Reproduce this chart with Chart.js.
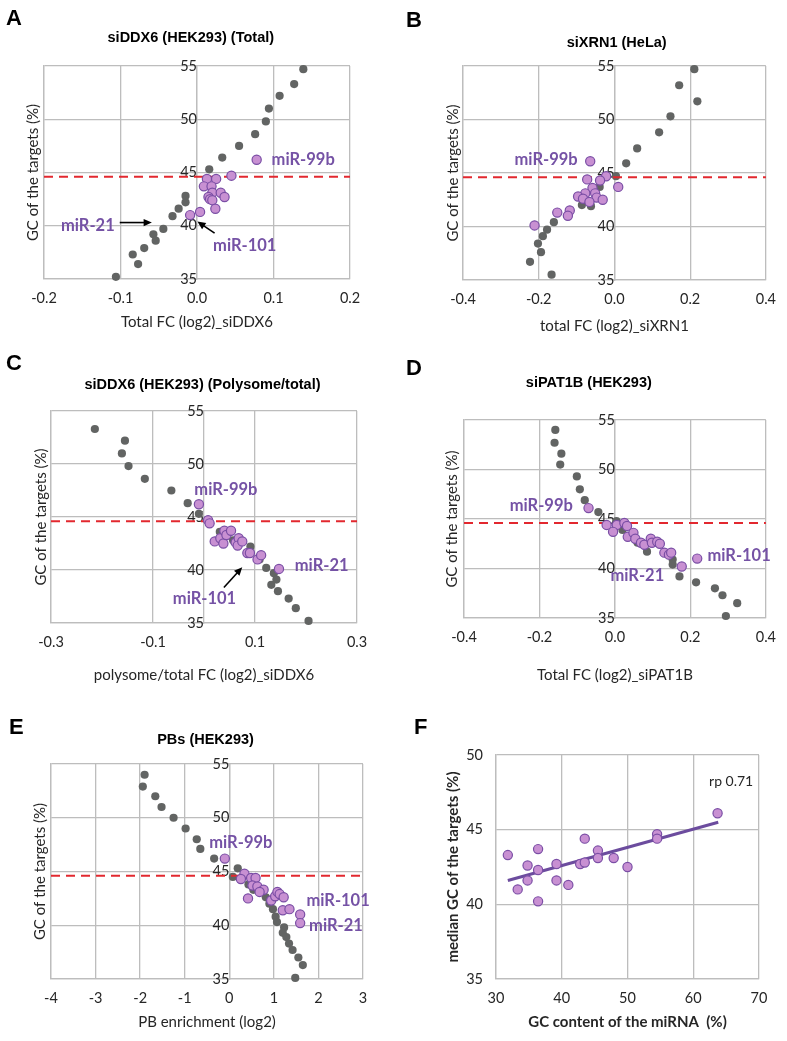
<!DOCTYPE html>
<html>
<head>
<meta charset="utf-8">
<script src="https://cdn.jsdelivr.net/npm/chart.js@4.4.1/dist/chart.umd.min.js"></script>
<style>
  html, body { margin: 0; padding: 0; background: #fff; }
  #wrap { position: relative; width: 787px; height: 1041px; overflow: hidden; }
</style>
</head>
<body>
<div id="wrap"></div>
<script>
// GC of the targets (%) : gray = target bins, purple = individual miRNAs, values are [x, y]
const panelA_gray = [[-0.106,35.2],[-0.084,37.3],[-0.077,36.4],[-0.069,37.9],[-0.057,39.2],[-0.054,38.6],[-0.044,39.7],[-0.032,40.9],[-0.024,41.6],[-0.015,42.2],[-0.015,42.8],[0.016,45.3],[0.033,46.4],[0.055,47.5],[0.076,48.6],[0.090,49.8],[0.094,51.0],[0.108,52.2],[0.127,53.3],[0.139,54.7]];
const panelA_mir = [[0.078,46.2],[0.045,44.7],[0.013,44.4],[0.025,44.4],[0.009,43.7],[0.019,43.7],[0.020,43.1],[0.015,42.7],[0.017,42.5],[0.020,42.4],[0.031,43.1],[0.036,42.7],[0.024,41.6],[0.004,41.3],[-0.009,41.0]];

const panelB_gray = [[0.211,54.7],[0.171,53.2],[0.219,51.7],[0.148,50.3],[0.118,48.8],[0.060,47.3],[0.031,45.9],[0.004,44.7],[-0.039,43.7],[-0.062,41.9],[-0.086,42.0],[-0.160,40.4],[-0.178,39.7],[-0.189,39.1],[-0.202,38.4],[-0.194,37.6],[-0.223,36.7],[-0.166,35.5]];
const panelB_mir = [[-0.064,46.1],[-0.022,44.7],[-0.072,44.4],[-0.038,44.3],[-0.058,43.6],[0.010,43.7],[-0.077,43.1],[-0.051,43.1],[-0.096,42.8],[-0.083,42.6],[-0.047,42.7],[-0.066,42.3],[-0.031,42.5],[-0.118,41.5],[-0.151,41.3],[-0.123,41.0],[-0.211,40.1]];

const panelC_gray = [[-0.214,53.3],[-0.155,52.2],[-0.161,51.0],[-0.148,49.8],[-0.116,48.6],[-0.064,47.5],[-0.032,46.3],[-0.010,45.3],[0.031,43.6],[0.057,42.8],[0.091,42.2],[0.109,41.0],[0.122,40.2],[0.137,39.7],[0.142,39.1],[0.132,38.6],[0.145,38.0],[0.166,37.3],[0.180,36.4],[0.205,35.2]];
const panelC_mir = [[-0.010,46.2],[0.008,44.7],[0.011,44.4],[0.021,42.7],[0.032,43.0],[0.040,43.7],[0.038,42.5],[0.044,43.3],[0.053,43.7],[0.062,42.6],[0.068,43.0],[0.066,42.3],[0.075,42.7],[0.085,41.6],[0.090,41.6],[0.105,41.0],[0.112,41.4],[0.147,40.1]];

const panelD_gray = [[-0.158,54.0],[-0.160,52.7],[-0.142,51.6],[-0.145,50.5],[-0.101,49.3],[-0.093,48.0],[-0.080,46.9],[-0.044,45.7],[0.004,44.8],[0.020,43.9],[0.060,42.6],[0.085,41.7],[0.153,40.9],[0.153,40.4],[0.171,39.2],[0.215,38.6],[0.265,38.0],[0.285,37.3],[0.324,36.5],[0.294,35.2]];
const panelD_mir = [[-0.070,46.1],[-0.022,44.4],[0.005,44.4],[-0.005,43.7],[0.025,44.6],[0.032,44.3],[0.034,43.2],[0.049,43.6],[0.054,43.0],[0.069,42.6],[0.078,42.4],[0.095,43.0],[0.098,42.6],[0.112,42.7],[0.119,42.5],[0.131,41.6],[0.143,41.4],[0.149,41.6],[0.177,40.2],[0.218,41.0]];

const panelE_gray = [[-1.90,54.0],[-1.94,52.9],[-1.66,52.0],[-1.52,51.0],[-1.25,50.0],[-0.98,49.0],[-0.73,48.0],[-0.65,47.1],[-0.34,46.2],[0.19,45.3],[0.08,44.5],[0.43,43.8],[0.54,43.3],[0.82,42.6],[0.90,42.0],[0.98,41.5],[1.04,40.8],[1.07,40.3],[1.23,39.8],[1.20,39.3],[1.28,38.9],[1.34,38.3],[1.42,37.7],[1.55,37.0],[1.65,36.3],[1.48,35.1]];
const panelE_mir = [[-0.10,46.2],[0.34,44.8],[0.26,44.3],[0.49,44.4],[0.59,44.4],[0.52,43.7],[0.63,43.6],[0.77,43.3],[0.68,43.1],[0.42,42.5],[0.94,42.3],[1.03,42.7],[1.08,43.1],[1.13,42.9],[1.22,42.6],[1.20,41.4],[1.35,41.5],[1.59,41.0],[1.59,40.2]];

// F: GC content of the miRNA vs median GC of its targets
const panelF_mir = [[31.8,43.3],[33.3,41.0],[34.8,42.6],[34.8,41.6],[36.4,43.7],[36.4,42.3],[36.4,40.2],[39.2,42.7],[39.2,41.6],[41.0,41.3],[42.8,42.7],[43.5,44.4],[43.5,42.8],[45.5,43.6],[45.5,43.1],[47.9,43.1],[50.0,42.5],[54.5,44.7],[54.5,44.4],[63.7,46.1]];
const panelF_trend = [[31.8,41.6],[63.8,45.5]];

const cutoff = 44.6;

// tick values
const ticksA = [-0.2, -0.1, 0, 0.1, 0.2];
const ticksB = [-0.4, -0.2, 0, 0.2, 0.4];
const ticksC = [-0.3, -0.1, 0.1, 0.3];
const ticksE = [-4, -3, -2, -1, 0, 1, 2, 3];
const ticksF_x = [30, 40, 50, 60, 70];
const ticksGC = [35, 40, 45, 50, 55];
const ticksF_y = [35, 40, 45, 50];

// miRNA names [text, x, y, align]
const labelsA = [['miR-99b', 0.0975, 46.2, 'left'], ['miR-21', -0.1075, 40.0, 'right'], ['miR-101', 0.021, 38.15, 'left']];
const labelsB = [['miR-99b', -0.097, 46.2, 'right']];
const labelsC = [['miR-99b', -0.019, 47.6, 'left'], ['miR-21', 0.178, 40.45, 'left'], ['miR-101', 0.001, 37.3, 'center']];
const labelsD = [['miR-99b', -0.1115, 46.3, 'right'], ['miR-101', 0.245, 41.3, 'left'], ['miR-21', -0.012, 39.3, 'left']];
const labelsE = [['miR-99b', -0.45, 47.7, 'left'], ['miR-101', 1.73, 42.25, 'left'], ['miR-21', 1.79, 39.95, 'left']];
// arrows [x0, y0, x1, y1] (head at x1,y1)
const arrowsA = [[-0.101, 40.3, -0.059, 40.3], [0.023, 39.3, 0.0005, 40.4]];
const arrowsC = [[0.039, 38.35, 0.075, 40.26]];

const GRID = '#bdbdbd';
const INK = '#262626';
const NAME = '#7552a5';
const GRAY = '#626463';
const LILAC = '#c890d2';
const EDGE = '#7a4ea5';

const notes = {
  id: 'notes',
  afterDatasetsDraw(chart, args, o) {
    const ctx = chart.ctx, x = chart.scales.x, y = chart.scales.y;
    ctx.save();
    ctx.fillStyle = '#000';
    ctx.strokeStyle = '#000';
    ctx.lineWidth = 1.6;
    (o.arrows || []).forEach(a => {
      const x0 = x.getPixelForValue(a[0]), y0 = y.getPixelForValue(a[1]);
      const x1 = x.getPixelForValue(a[2]), y1 = y.getPixelForValue(a[3]);
      const ang = Math.atan2(y1 - y0, x1 - x0);
      ctx.beginPath();
      ctx.moveTo(x0, y0);
      ctx.lineTo(x1 - 6 * Math.cos(ang), y1 - 6 * Math.sin(ang));
      ctx.stroke();
      ctx.beginPath();
      ctx.moveTo(x1, y1);
      ctx.lineTo(x1 - 9 * Math.cos(ang - 0.42), y1 - 9 * Math.sin(ang - 0.42));
      ctx.lineTo(x1 - 9 * Math.cos(ang + 0.42), y1 - 9 * Math.sin(ang + 0.42));
      ctx.closePath();
      ctx.fill();
    });
    ctx.textBaseline = 'middle';
    (o.labels || []).forEach(l => {
      ctx.font = o.labelFont || 'bold 16.5px Lato';
      ctx.fillStyle = o.labelColor || NAME;
      ctx.textAlign = l[3];
      ctx.fillText(l[0], x.getPixelForValue(l[1]), y.getPixelForValue(l[2]));
    });
    ctx.restore();
  },
  afterDraw(chart, args, o) {
    const ctx = chart.ctx;
    ctx.save();
    ctx.fillStyle = '#000';
    ctx.textBaseline = 'middle';
    if (o.letter) {
      ctx.font = 'bold 22px "Liberation Sans", Arial, sans-serif';
      ctx.textAlign = 'left';
      ctx.fillText(o.letter[0], o.letter[1] - o.ox, o.letter[2] - o.oy);
    }
    if (o.title) {
      ctx.font = 'bold 14.5px "Liberation Sans", Arial, sans-serif';
      ctx.textAlign = 'center';
      ctx.fillText(o.title[0], o.title[1] - o.ox, o.title[2] - o.oy);
    }
    ctx.restore();
  }
};

const toXY = arr => arr.map(p => ({x: p[0], y: p[1]}));

const panels = [
  {letter: ['A', 6, 18.5], title: ['siDDX6 (HEK293) (Total)', 190.8, 38.3],
   box: [0, 0, 393, 340], area: [44, 66, 350, 279], xMin: -0.2, xMax: 0.2, xTicks: ticksA, dec: 1,
   xTitle: 'Total FC (log2)_siDDX6', xTitleY: 321.7, yTitleX: 33,
   gray: panelA_gray, mir: panelA_mir, labels: labelsA, arrows: arrowsA},
  {letter: ['B', 406, 21], title: ['siXRN1 (HeLa)', 616.7, 43.3],
   box: [393, 0, 394, 340], area: [463, 66, 769, 280], xMin: -0.4, xMax: 0.4, xTicks: ticksB, dec: 1,
   xTitle: 'total FC (log2)_siXRN1', xTitleY: 326, yTitleX: 453,
   gray: panelB_gray, mir: panelB_mir, labels: labelsB},
  {letter: ['C', 6, 363.5], title: ['siDDX6 (HEK293) (Polysome/total)', 202.5, 385],
   box: [0, 340, 393, 350], area: [51, 411, 357, 623], xMin: -0.3, xMax: 0.3, xTicks: ticksC, dec: 1,
   xTitle: 'polysome/total FC (log2)_siDDX6', xTitleY: 675, yTitleX: 40.7,
   gray: panelC_gray, mir: panelC_mir, labels: labelsC, arrows: arrowsC},
  {letter: ['D', 406, 369], title: ['siPAT1B (HEK293)', 588.8, 383.3],
   box: [393, 340, 394, 350], area: [464, 420, 770, 618], xMin: -0.4, xMax: 0.4, xTicks: ticksB, dec: 1,
   xTitle: 'Total FC (log2)_siPAT1B', xTitleY: 675, yTitleX: 451.7,
   gray: panelD_gray, mir: panelD_mir, labels: labelsD},
  {letter: ['E', 9, 727.5], title: ['PBs (HEK293)', 205.5, 740],
   box: [0, 690, 393, 351], area: [51, 764, 363, 979], xMin: -4, xMax: 3, xTicks: ticksE, dec: 0,
   xTitle: 'PB enrichment (log2)', xTitleY: 1022, yTitleX: 40,
   gray: panelE_gray, mir: panelE_mir, labels: labelsE},
  {letter: ['F', 414, 727.5],
   box: [393, 690, 394, 351], area: [496, 755, 759, 979], xMin: 30, xMax: 70, xTicks: ticksF_x, dec: 0,
   yMax: 50, yTicks: ticksF_y, bold: true,
   xTitle: 'GC content of the miRNA  (%)', xTitleY: 1022, yTitleX: 453.3,
   yTitle: 'median GC of the targets (%)',
   mir: panelF_mir, trend: panelF_trend,
   labels: [['rp 0.71', 62.4, 48.25, 'left']], labelFont: '14px Lato', labelColor: INK}
];

panels.forEach(p => {
  const [cx, cy, W, H] = p.box;
  const [L, T, R, B] = p.area;
  const holder = document.createElement('div');
  holder.style.cssText = 'position:absolute;left:' + cx + 'px;top:' + cy + 'px;width:' + W + 'px;height:' + H + 'px';
  const cv = document.createElement('canvas');
  cv.width = W;
  cv.height = H;
  holder.appendChild(cv);
  document.getElementById('wrap').appendChild(holder);

  const yMin = 35, yMax = p.yMax || 55, yTicks = p.yTicks || ticksGC;
  const centered = !!p.gray;
  const titleFont = {family: 'Lato', size: 15, weight: p.bold ? 'bold' : 'normal'};
  const tickFont = {family: 'Lato', size: 14.5};

  const datasets = [{
    data: toXY(p.mir), backgroundColor: LILAC, borderColor: EDGE, borderWidth: 1.2,
    pointRadius: 4.6, clip: false
  }];
  if (p.trend) {
    datasets.push({type: 'line', data: toXY(p.trend), borderColor: '#6c4c9e', borderWidth: 3,
      pointRadius: 0, fill: false, clip: false});
  }
  if (p.gray) {
    datasets.push({type: 'line', data: [{x: p.xMin, y: cutoff}, {x: p.xMax, y: cutoff}],
      borderColor: '#e2282f', borderWidth: 2, borderDash: [9, 6], pointRadius: 0, fill: false});
    datasets.push({data: toXY(p.gray), backgroundColor: GRAY, borderColor: GRAY, borderWidth: 0,
      pointRadius: 4.1, clip: false});
  }

  const scales = {
    x: {
      type: 'linear', min: p.xMin, max: p.xMax,
      afterBuildTicks: s => { s.ticks = p.xTicks.map(v => ({value: v})); },
      afterFit: s => { s.height = H - (B - cy); },
      grid: {color: GRID, lineWidth: 1.3, drawTicks: false},
      border: {color: GRID, width: 1.3},
      ticks: {font: tickFont, color: INK, padding: 11, callback: v => Number(v).toFixed(p.dec)},
      title: {display: true, text: p.xTitle, font: titleFont, color: INK,
        padding: {top: 0, bottom: H - (p.xTitleY - cy) - 9}}
    },
    y: {
      type: 'linear', min: yMin, max: yMax,
      afterBuildTicks: s => { s.ticks = yTicks.map(v => ({value: v})); },
      afterFit: s => { s.width = L - cx; },
      grid: {color: GRID, lineWidth: 1.3, drawTicks: false},
      border: {color: GRID, width: 1.3},
      ticks: {display: !centered, font: tickFont, color: INK, padding: 13},
      title: {display: true, text: p.yTitle || 'GC of the targets (%)', font: titleFont, color: INK,
        padding: {top: p.yTitleX - cx - 9, bottom: 0}}
    }
  };
  if (centered) {
    scales.yc = {
      type: 'linear', position: {x: 0}, min: yMin, max: yMax,
      afterBuildTicks: s => { s.ticks = yTicks.map(v => ({value: v})); },
      grid: {display: false, drawTicks: false},
      border: {display: true, color: GRID, width: 1.3},
      ticks: {font: tickFont, color: INK, padding: 14}
    };
  }

  new Chart(cv, {
    type: 'scatter',
    data: {datasets: datasets},
    options: {
      responsive: false,
      animation: false,
      events: [],
      layout: {padding: {top: T - cy, left: 0, right: cx + W - R, bottom: 0}},
      scales: scales,
      plugins: {
        legend: {display: false},
        tooltip: {enabled: false},
        notes: {labels: p.labels, arrows: p.arrows, letter: p.letter, title: p.title,
          labelFont: p.labelFont, labelColor: p.labelColor, ox: cx, oy: cy}
      }
    },
    plugins: [notes]
  });
});
</script>
</body>
</html>
